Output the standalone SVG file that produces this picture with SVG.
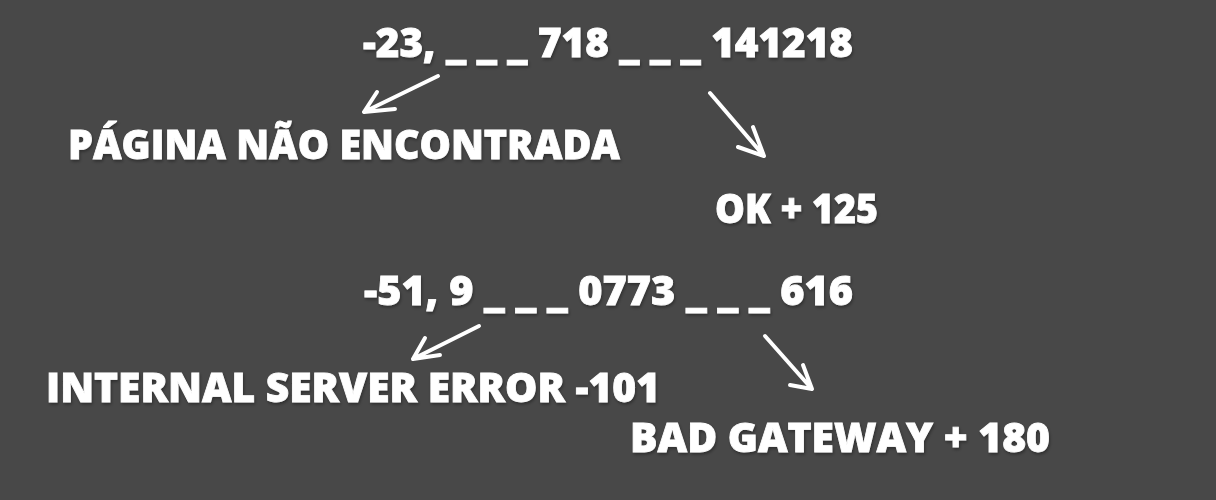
<svg xmlns="http://www.w3.org/2000/svg" width="1216" height="500" viewBox="0 0 1216 500">
<defs>
<filter id="sh" x="-5%" y="-30%" width="110%" height="160%">
<feDropShadow dx="1" dy="2" stdDeviation="1.5" flood-color="#000" flood-opacity="0.35"/>
</filter>
<style>
.t{font-family:"Open Sans","DejaVu Sans",sans-serif;font-weight:800;font-size:40px;fill:#ffffff;stroke:#ffffff;stroke-width:0.8;filter:url(#sh)}
.a{fill:none;stroke:#ffffff;stroke-width:4;stroke-linecap:round;stroke-linejoin:round}
</style>
</defs>
<rect width="1216" height="500" fill="#484848"/>
<g id="seq1"><text class="t" x="363" y="57" textLength="490" lengthAdjust="spacingAndGlyphs">-23, _ _ _ 718 _ _ _ 141218</text></g>
<g id="pagina"><text class="t" x="68" y="159" textLength="552" lengthAdjust="spacingAndGlyphs">PÁGINA NÃO ENCONTRADA</text></g>
<g id="ok"><text class="t" x="715" y="223" textLength="163" lengthAdjust="spacingAndGlyphs">OK + 125</text></g>
<g id="seq2"><text class="t" x="364" y="305" textLength="489" lengthAdjust="spacingAndGlyphs">-51, 9 _ _ _ 0773 _ _ _ 616</text></g>
<g id="internal"><text class="t" x="46" y="402" textLength="614" lengthAdjust="spacingAndGlyphs">INTERNAL SERVER ERROR -101</text></g>
<g id="badgw"><text class="t" x="630" y="452" textLength="420" lengthAdjust="spacingAndGlyphs">BAD GATEWAY + 180</text></g>
<g id="connectors">
<path class="a" d="M438,76 L364,112 M377,92 L364,112 L395,109"/>
<path class="a" d="M710,93 L764,156 M753,127 L764,156 L738,147"/>
<path class="a" d="M479,326 L413,359 M425,338 L413,359 L440,355"/>
<path class="a" d="M765,336 L812,389 M803,365 L812,389 L790,385"/>
</g>
</svg>
